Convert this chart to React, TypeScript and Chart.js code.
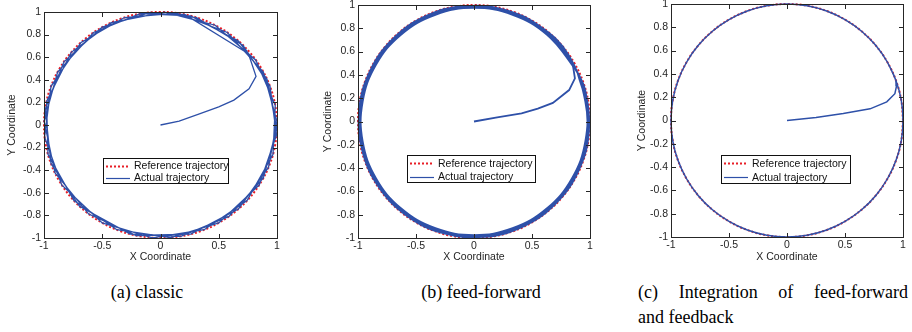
import React, { useEffect, useRef } from "react";
import { Chart, registerables } from "chart.js";

Chart.register(...registerables);

type Pt = [number, number];

// ---------- data ----------
const xTickValues = [-1, -0.5, 0, 0.5, 1];
const xTickLabels = ["-1", "-0.5", "0", "0.5", "1"];
const yTickValues = [-1, -0.8, -0.6, -0.4, -0.2, 0, 0.2, 0.4, 0.6, 0.8, 1];
const yTickLabels = ["-1", "-0.8", "-0.6", "-0.4", "-0.2", "0", "0.2", "0.4", "0.6", "0.8", "1"];
const seriesLabels = ["Reference trajectory", "Actual trajectory"];
const xAxisTitle = "X Coordinate";
const yAxisTitle = "Y Coordinate";
const captionA = "(a) classic";
const captionB = "(b) feed-forward";
const captionC1 = "(c) Integration of feed-forward";
const captionC2 = "and feedback";

const referenceCircle: Pt[] = [
  [1, 0], [0.985, 0.174], [0.94, 0.342], [0.866, 0.5], [0.766, 0.643], [0.643, 0.766],
  [0.5, 0.866], [0.342, 0.94], [0.174, 0.985], [0, 1], [-0.174, 0.985], [-0.342, 0.94],
  [-0.5, 0.866], [-0.643, 0.766], [-0.766, 0.643], [-0.866, 0.5], [-0.94, 0.342], [-0.985, 0.174],
  [-1, 0], [-0.985, -0.174], [-0.94, -0.342], [-0.866, -0.5], [-0.766, -0.643], [-0.643, -0.766],
  [-0.5, -0.866], [-0.342, -0.94], [-0.174, -0.985], [0, -1], [0.174, -0.985], [0.342, -0.94],
  [0.5, -0.866], [0.643, -0.766], [0.766, -0.643], [0.866, -0.5], [0.94, -0.342], [0.985, -0.174],
  [1, 0],
];

// (a) classic
const classicApproach: Pt[] = [
  [0, 0], [0.16, 0.035], [0.34, 0.1], [0.5, 0.16], [0.63, 0.22], [0.76, 0.32], [0.82, 0.43], [0.755, 0.63],
];
const classicLoops: Pt[] = [
  [0.755, 0.63],
  [0.208, 0.978], [-0.174, 0.985], [-0.574, 0.819], [-0.883, 0.469], [-0.999, 0.035], [-0.906, -0.423],
  [-0.616, -0.788], [-0.208, -0.978], [0.259, -0.966], [0.669, -0.743], [0.927, -0.375], [0.999, 0.035],
  [0.883, 0.469], [0.574, 0.819], [0.139, 0.99], [-0.309, 0.951], [-0.682, 0.731], [-0.94, 0.342],
  [-0.995, -0.105], [-0.848, -0.53], [-0.5, -0.866], [-0.07, -0.998], [0.375, -0.927], [0.743, -0.669],
  [0.966, -0.259], [0.985, 0.174], [0.819, 0.574], [0.469, 0.883], [0.035, 0.999], [-0.423, 0.906],
  [-0.766, 0.643], [-0.978, 0.208], [-0.966, -0.259], [-0.743, -0.669], [-0.375, -0.927], [0.087, -0.996],
  [0.5, -0.866], [0.848, -0.53], [0.996, -0.087], [0.94, 0.342], [0.707, 0.707], [0.309, 0.951],
  [-0.087, 0.996], [-0.5, 0.866], [-0.829, 0.559], [-0.99, 0.139], [-0.94, -0.342], [-0.695, -0.719],
  [-0.259, -0.966], [0.174, -0.985], [0.588, -0.809], [0.883, -0.469], [0.999, -0.035], [0.914, 0.407],
  [0.669, 0.743], [0.259, 0.966], [-0.174, 0.985],
];

// (b) feed-forward
const feedForwardApproach: Pt[] = [
  [0, 0], [0.2, 0.035], [0.41, 0.07], [0.55, 0.11], [0.68, 0.16], [0.82, 0.27], [0.87, 0.37], [0.85, 0.5],
];
const feedForwardLoops: Pt[] = [
  [0.85, 0.5],
  [0.758, 0.637], [0.495, 0.857], [0.172, 0.975], [-0.172, 0.975], [-0.495, 0.857], [-0.758, 0.637],
  [-0.931, 0.339], [-0.99, 0], [-0.931, -0.339], [-0.758, -0.637], [-0.495, -0.857], [-0.172, -0.975],
  [0.172, -0.975], [0.495, -0.857], [0.758, -0.637], [0.931, -0.339], [0.99, 0], [0.931, 0.339],
  [0.844, 0.488], [0.627, 0.747], [0.333, 0.916], [0, 0.975], [-0.333, 0.916], [-0.627, 0.747],
  [-0.844, 0.488], [-0.96, 0.169], [-0.96, -0.169], [-0.844, -0.488], [-0.627, -0.747], [-0.333, -0.916],
  [0, -0.975], [0.333, -0.916], [0.627, -0.747], [0.844, -0.488], [0.96, -0.169], [0.96, 0.169],
  [0.815, 0.571], [0.571, 0.815], [0.258, 0.961], [-0.087, 0.991], [-0.421, 0.902], [-0.704, 0.704],
  [-0.902, 0.421], [-0.991, 0.087], [-0.961, -0.258], [-0.815, -0.571], [-0.571, -0.815], [-0.258, -0.961],
  [0.087, -0.991], [0.421, -0.902], [0.704, -0.704], [0.902, -0.421], [0.991, -0.087], [0.961, 0.258],
  [0.893, 0.416], [0.696, 0.696], [0.416, 0.893], [0.086, 0.981], [-0.255, 0.951], [-0.565, 0.807],
  [-0.807, 0.565], [-0.951, 0.255], [-0.981, -0.086], [-0.893, -0.416], [-0.696, -0.696], [-0.416, -0.893],
  [-0.086, -0.981], [0.255, -0.951], [0.565, -0.807], [0.807, -0.565], [0.951, -0.255], [0.981, 0.086],
  [0.893, 0.416],
];

// (c) integration of feed-forward and feedback
const integratedApproach: Pt[] = [
  [0, 0], [0.25, 0.025], [0.485, 0.06], [0.716, 0.1], [0.86, 0.16], [0.93, 0.23], [0.945, 0.3], [0.94, 0.342],
];
const integratedLoops: Pt[] = [
  [0.94, 0.342],
  [0.866, 0.5], [0.766, 0.643], [0.643, 0.766], [0.5, 0.866], [0.342, 0.94], [0.174, 0.985], [0, 1],
  [-0.174, 0.985], [-0.342, 0.94], [-0.5, 0.866], [-0.643, 0.766], [-0.766, 0.643], [-0.866, 0.5],
  [-0.94, 0.342], [-0.985, 0.174], [-1, 0], [-0.985, -0.174], [-0.94, -0.342], [-0.866, -0.5],
  [-0.766, -0.643], [-0.643, -0.766], [-0.5, -0.866], [-0.342, -0.94], [-0.174, -0.985], [0, -1],
  [0.174, -0.985], [0.342, -0.94], [0.5, -0.866], [0.643, -0.766], [0.766, -0.643], [0.866, -0.5],
  [0.94, -0.342], [0.985, -0.174], [1, 0], [0.985, 0.174], [0.94, 0.342], [0.866, 0.5],
];

// ---------- layout / style ----------
const FONT = "'Liberation Sans', Arial, Helvetica, sans-serif";
const SERIF = "'Liberation Serif', 'Times New Roman', Times, serif";
const TEXT = "#262626";
const RED = "rgb(232,30,38)";
const BLUE = "rgb(46,80,168)";
const CANVAS_BOTTOM = 263;

interface PanelSpec {
  plot: { l: number; t: number; r: number; b: number };
  titleX: number;
  legend: { x: number; y: number; w: number; h: number };
  approach: Pt[];
  loops: Pt[];
  actualWidth: number;
  tension: number;
}

const panels: PanelSpec[] = [
  { plot: { l: 44, t: 12, r: 277, b: 238 }, titleX: 12, legend: { x: 103, y: 158, w: 126, h: 26 }, approach: classicApproach, loops: classicLoops, actualWidth: 1.3, tension: 0 },
  { plot: { l: 358, t: 5, r: 590, b: 238 }, titleX: 328, legend: { x: 407, y: 155, w: 129, h: 28 }, approach: feedForwardApproach, loops: feedForwardLoops, actualWidth: 1.8, tension: 0.4 },
  { plot: { l: 671, t: 4, r: 903, b: 237 }, titleX: 642, legend: { x: 721, y: 155, w: 130, h: 29 }, approach: integratedApproach, loops: integratedLoops, actualWidth: 1.5, tension: 0.4 },
];

function Panel({ spec }: { spec: PanelSpec }) {
  const ref = useRef<HTMLCanvasElement>(null);
  const L = spec.titleX - 6;
  const T = spec.plot.t - 10;
  const R = spec.plot.r + 9;
  const W = R - L;
  const H = CANVAS_BOTTOM - T;

  useEffect(() => {
    if (!ref.current) return;
    const toXY = (pts: Pt[]) => pts.map(([x, y]) => ({ x, y }));
    const frame = {
      id: "frame",
      afterDraw(chart: any) {
        const { ctx, chartArea: a, scales } = chart;
        const xs = scales.x;
        const ys = scales.y;
        ctx.save();
        ctx.strokeStyle = TEXT;
        ctx.lineWidth = 1;
        ctx.strokeRect(a.left + 0.5, a.top + 0.5, a.right - a.left, a.bottom - a.top);
        const tl = 4;
        ctx.beginPath();
        xTickValues.forEach((v) => {
          const px = Math.round(xs.getPixelForValue(v)) + 0.5;
          ctx.moveTo(px, a.bottom);
          ctx.lineTo(px, a.bottom - tl);
          ctx.moveTo(px, a.top + 1);
          ctx.lineTo(px, a.top + 1 + tl);
        });
        yTickValues.forEach((v) => {
          const py = Math.round(ys.getPixelForValue(v)) + 0.5;
          ctx.moveTo(a.left + 1, py);
          ctx.lineTo(a.left + 1 + tl, py);
          ctx.moveTo(a.right, py);
          ctx.lineTo(a.right - tl, py);
        });
        ctx.stroke();

        // legend
        const lg = spec.legend;
        const lx = lg.x - L;
        const ly = lg.y - T;
        ctx.fillStyle = "#ffffff";
        ctx.fillRect(lx, ly, lg.w, lg.h);
        ctx.strokeStyle = "#111";
        ctx.strokeRect(lx + 0.5, ly + 0.5, lg.w - 1, lg.h - 1);
        const rows = [ly + lg.h * 0.29, ly + lg.h * 0.77];
        ctx.font = `10.5px ${FONT}`;
        ctx.textBaseline = "middle";
        ctx.textAlign = "left";
        rows.forEach((ry, i) => {
          ctx.beginPath();
          ctx.strokeStyle = i === 0 ? RED : BLUE;
          ctx.lineWidth = i === 0 ? 2 : 1.2;
          ctx.setLineDash(i === 0 ? [2, 2] : []);
          ctx.moveTo(lx + 3, Math.round(ry) + 0.5);
          ctx.lineTo(lx + 27, Math.round(ry) + 0.5);
          ctx.stroke();
          ctx.setLineDash([]);
          ctx.fillStyle = "#111";
          ctx.fillText(seriesLabels[i], lx + 31, ry + 0.5);
        });
        ctx.restore();
      },
    };

    const blueLine = (pts: Pt[], tension: number) => ({
      label: seriesLabels[1],
      data: toXY(pts),
      showLine: true,
      borderColor: BLUE,
      borderWidth: spec.actualWidth,
      pointRadius: 0,
      tension,
      order: 0,
      clip: 1,
    });

    const chart = new Chart(ref.current, {
      type: "scatter",
      data: {
        datasets: [
          {
            label: seriesLabels[0],
            data: toXY(referenceCircle),
            showLine: true,
            borderColor: RED,
            borderWidth: 2,
            borderDash: [2, 2],
            pointRadius: 0,
            tension: 0.4,
            order: 2,
            clip: 1,
          },
          blueLine(spec.loops, spec.tension),
          blueLine(spec.approach, 0),
        ],
      },
      options: {
        animation: false,
        responsive: false,
        devicePixelRatio: 1,
        layout: { padding: { top: 10, right: 9, left: 0, bottom: 0 } },
        plugins: { legend: { display: false }, tooltip: { enabled: false }, title: { display: false } },
        scales: {
          x: {
            type: "linear",
            min: -1,
            max: 1,
            grid: { display: false, drawTicks: false },
            border: { display: false },
            afterBuildTicks: (s: any) => {
              s.ticks = xTickValues.map((v) => ({ value: v }));
            },
            afterFit: (s: any) => {
              s.height = CANVAS_BOTTOM - spec.plot.b;
            },
            ticks: {
              autoSkip: false,
              maxRotation: 0,
              minRotation: 0,
              padding: 2,
              color: TEXT,
              font: { family: FONT, size: 10.5 },
              callback: (_v: any, i: number) => xTickLabels[i],
            },
            title: {
              display: true,
              text: xAxisTitle,
              color: TEXT,
              padding: 0,
              font: { family: FONT, size: 10.5, lineHeight: "12px" },
            },
          },
          y: {
            type: "linear",
            min: -1,
            max: 1,
            grid: { display: false, drawTicks: false },
            border: { display: false },
            afterBuildTicks: (s: any) => {
              s.ticks = yTickValues.map((v) => ({ value: v }));
            },
            afterFit: (s: any) => {
              s.width = spec.plot.l - L;
            },
            ticks: {
              autoSkip: false,
              padding: 3,
              color: TEXT,
              font: { family: FONT, size: 10.5 },
              callback: (_v: any, i: number) => yTickLabels[i],
            },
            title: {
              display: true,
              text: yAxisTitle,
              color: TEXT,
              padding: 0,
              font: { family: FONT, size: 10.5, lineHeight: "12px" },
            },
          },
        },
      } as any,
      plugins: [frame],
    });
    return () => chart.destroy();
  }, []);

  return (
    <canvas
      ref={ref}
      width={W}
      height={H}
      style={{ position: "absolute", left: L, top: T, width: W, height: H }}
    />
  );
}

const capStyle: React.CSSProperties = {
  position: "absolute",
  fontFamily: SERIF,
  fontSize: 18,
  lineHeight: "25px",
  color: "#000",
  whiteSpace: "nowrap",
};

export default function App() {
  return (
    <div
      style={{
        position: "absolute",
        left: 0,
        top: 0,
        width: 912,
        height: 332,
        overflow: "hidden",
        background: "#fff",
      }}
    >
      {panels.map((p, i) => (
        <Panel key={i} spec={p} />
      ))}
      <div style={{ ...capStyle, left: 87, top: 280, width: 120, textAlign: "center" }}>{captionA}</div>
      <div style={{ ...capStyle, left: 421, top: 280, width: 120, textAlign: "center" }}>{captionB}</div>
      <div style={{ ...capStyle, left: 638, top: 280, width: 270, textAlign: "justify", textAlignLast: "justify" as any }}>
        {captionC1}
      </div>
      <div style={{ ...capStyle, left: 638, top: 305 }}>{captionC2}</div>
    </div>
  );
}
